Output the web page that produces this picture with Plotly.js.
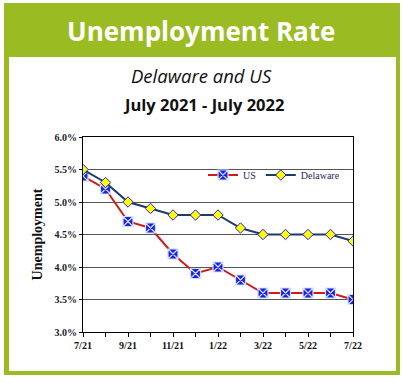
<!DOCTYPE html>
<html>
<head>
<meta charset="utf-8">
<script src="https://cdn.plot.ly/plotly-3.0.1.min.js"></script>
<style>html,body{margin:0;padding:0;background:#fff;}#chart{width:403px;height:382px;}</style>
</head>
<body>
<div id="chart"></div>
<script>
const months = ['7/21','8/21','9/21','10/21','11/21','12/21','1/22','2/22','3/22','4/22','5/22','6/22','7/22'];
const tickLabels = ['7/21','','9/21','','11/21','','1/22','','3/22','','5/22','','7/22'];
const usRate = [5.4, 5.2, 4.7, 4.6, 4.2, 3.9, 4.0, 3.8, 3.6, 3.6, 3.6, 3.6, 3.5];
const delawareRate = [5.5, 5.3, 5.0, 4.9, 4.8, 4.8, 4.8, 4.6, 4.5, 4.5, 4.5, 4.5, 4.4];
const yTicks = [3.0, 3.5, 4.0, 4.5, 5.0, 5.5, 6.0];

const W = 403, H = 382;
const L = 83, R = 353, T = 137, B = 332;
const px = x => (x - L) / (R - L);
const py = y => (B - y) / (B - T);

const serif = 'Liberation Serif, Times New Roman, serif';

const traces = [
  {
    x: months, y: usRate, name: 'US', type: 'scatter', mode: 'lines+markers',
    line: {color: '#d11a1a', width: 2},
    marker: {symbol: 'square-x', size: 10, color: '#1f1fe0', line: {color: '#cfe0ff', width: 1.2}}
  },
  {
    x: months, y: delawareRate, name: 'Delaware', type: 'scatter', mode: 'lines+markers',
    line: {color: '#1c3a6b', width: 2},
    marker: {symbol: 'diamond', size: 8, color: '#ffff00', line: {color: '#1f1fe0', width: 1}}
  }
];

const layout = {
  width: W, height: H,
  margin: {l: L, r: W - R, t: T, b: H - B, pad: 0},
  paper_bgcolor: '#ffffff',
  plot_bgcolor: 'rgba(0,0,0,0)',
  showlegend: true,
  legend: {
    orientation: 'h', x: px(203), y: py(175), xanchor: 'left', yanchor: 'middle',
    bgcolor: 'rgba(0,0,0,0)', font: {family: serif, size: 10, color: '#1c2a5a'},
    itemwidth: 30, tracegroupgap: 0
  },
  xaxis: {
    type: 'category', range: [0, 12], tickvals: months, ticktext: tickLabels,
    ticks: 'outside', ticklen: 4, tickcolor: '#000', tickwidth: 1,
    showline: true, linecolor: '#000', linewidth: 1, mirror: true,
    showgrid: false, zeroline: false,
    tickfont: {family: serif, size: 10, color: '#111', weight: 'bold'}
  },
  yaxis: {
    range: [3.0, 6.0], tickvals: yTicks, ticktext: yTicks.map(v => v.toFixed(1) + '%'),
    ticks: 'outside', ticklen: 3, tickcolor: '#000',
    showline: true, linecolor: '#000', linewidth: 1, mirror: true,
    showgrid: true, gridcolor: '#555', gridwidth: 1, zeroline: false,
    tickfont: {family: serif, size: 10, color: '#1a1a2e', weight: 'bold'},
    title: {text: 'Unemployment', font: {family: serif, size: 14, color: '#111', weight: 'bold'}, standoff: 8}
  },
  shapes: [
    {type: 'rect', xref: 'paper', yref: 'paper', layer: 'below',
     x0: px(4), x1: px(400), y0: py(375), y1: py(3),
     fillcolor: '#9bbb22', line: {width: 0}},
    {type: 'rect', xref: 'paper', yref: 'paper', layer: 'below',
     x0: px(9), x1: px(396), y0: py(371), y1: py(57),
     fillcolor: '#ffffff', line: {width: 0}}
  ],
  annotations: [
    {text: '<b>Unemployment Rate</b>', xref: 'paper', yref: 'paper', x: px(201), y: py(31),
     xanchor: 'center', yanchor: 'middle', showarrow: false,
     font: {family: 'Open Sans, sans-serif', size: 26, color: '#ffffff'}},
    {text: '<i>Delaware and US</i>', xref: 'paper', yref: 'paper', x: px(201), y: py(75),
     xanchor: 'center', yanchor: 'middle', showarrow: false,
     font: {family: 'Open Sans, sans-serif', size: 18.5, color: '#111'}},
    {text: '<b>July 2021 - July 2022</b>', xref: 'paper', yref: 'paper', x: px(203), y: py(105),
     xanchor: 'center', yanchor: 'middle', showarrow: false,
     font: {family: 'Open Sans, sans-serif', size: 16.5, color: '#111'}}
  ]
};

Plotly.newPlot('chart', traces, layout, {displayModeBar: false, staticPlot: true});
</script>
</body>
</html>
